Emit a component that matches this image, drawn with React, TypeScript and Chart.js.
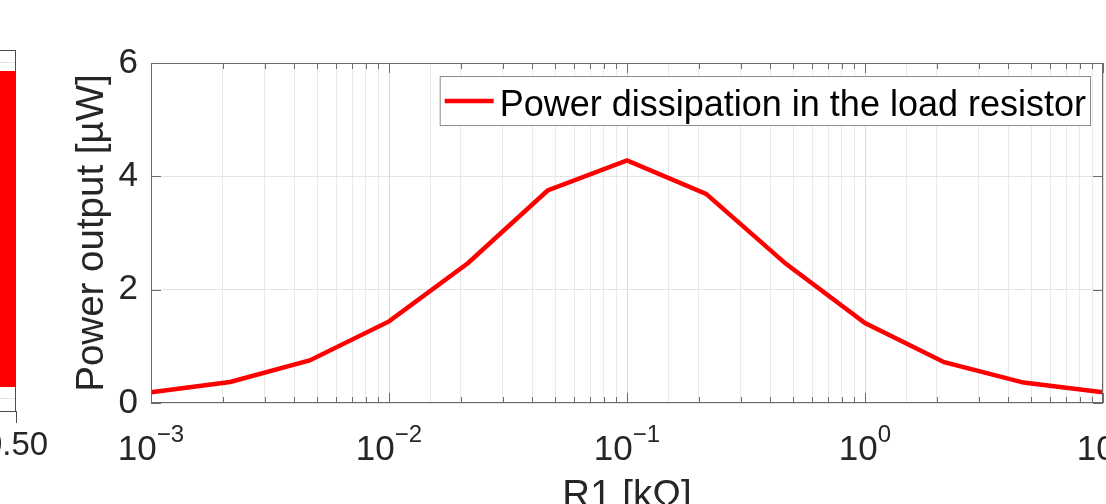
import React, { useEffect, useRef } from 'react';
import { Chart, registerables } from 'chart.js';

Chart.register(...registerables);

// ---- main plot data ----
const resistanceKOhm = [0.001, 0.00215, 0.00464, 0.01, 0.0215, 0.0464, 0.1, 0.215, 0.464, 1, 2.15, 4.64, 10];
const powerMicroW = [0.19, 0.37, 0.75, 1.44, 2.47, 3.75, 4.28, 3.69, 2.46, 1.41, 0.72, 0.36, 0.19];
const xTickValues = [0.001, 0.01, 0.1, 1, 10];
const xTickExponents = ['\u22123', '\u22122', '\u22121', '0', '1'];
const yTickValues = [0, 2, 4, 6];
const seriesLabel = 'Power dissipation in the load resistor';
const xAxisTitle = 'R1 [k\u03A9]';
const yAxisTitle = 'Power output [\u00B5W]';

// ---- neighbouring (cropped) subplot ----
const leftX = [0, 0.5];
const leftUpper = [0.975, 0.975];
const leftLower = [0.036, 0.036];
const leftXTicks = [0, 0.25, 0.5];
const leftYTicks = [0, 1];

const FONT = "'Liberation Sans', Arial, sans-serif";
const AX = '#262626';
const BORDER = '#6b6b6b';

const isPow10 = (v: number) => {
  if (!v || v <= 0) return false;
  const l = Math.log10(v);
  return Math.abs(l - Math.round(l)) < 1e-9;
};

const axesPlugin = {
  id: 'matlabAxes',
  afterDatasetsDraw(chart: any) {
    const { ctx, chartArea, scales } = chart;
    const { left, right, top, bottom } = chartArea;
    const x = scales.x;
    const y = scales.y;
    ctx.save();
    ctx.strokeStyle = BORDER;
    ctx.lineWidth = 1;
    ctx.strokeRect(left + 0.5, top + 0.5, right - left - 1, bottom - top - 1);
    ctx.beginPath();
    for (let e = -3; e <= 1; e++) {
      for (let m = 1; m <= 9; m++) {
        const v = m * Math.pow(10, e);
        if (v > 10.0001) break;
        const px = Math.round(x.getPixelForValue(v)) + 0.5;
        const len = m === 1 ? 10 : 6;
        ctx.moveTo(px, bottom);
        ctx.lineTo(px, bottom - len);
        ctx.moveTo(px, top);
        ctx.lineTo(px, top + len);
      }
    }
    yTickValues.forEach((v) => {
      const py = Math.round(y.getPixelForValue(v)) + 0.5;
      ctx.moveTo(left, py);
      ctx.lineTo(left + 10, py);
      ctx.moveTo(right, py);
      ctx.lineTo(right - 10, py);
    });
    ctx.stroke();
    ctx.restore();
  },
};

const legendPlugin = {
  id: 'matlabLegend',
  afterDatasetsDraw(chart: any) {
    const { ctx, chartArea } = chart;
    ctx.save();
    ctx.font = `36px ${FONT}`;
    const tw = ctx.measureText(seriesLabel).width;
    const boxRight = chartArea.right - 13;
    const boxTop = chartArea.top + 13;
    const boxH = 49;
    const boxLeft = boxRight - (60 + tw + 4);
    ctx.fillStyle = '#ffffff';
    ctx.fillRect(boxLeft, boxTop, boxRight - boxLeft, boxH);
    ctx.strokeStyle = '#8c8c8c';
    ctx.lineWidth = 1;
    ctx.strokeRect(boxLeft + 0.5, boxTop + 0.5, boxRight - boxLeft, boxH);
    ctx.strokeStyle = '#ff0000';
    ctx.lineWidth = 4.5;
    ctx.beginPath();
    ctx.moveTo(boxLeft + 5, boxTop + 25);
    ctx.lineTo(boxLeft + 54, boxTop + 25);
    ctx.stroke();
    ctx.fillStyle = '#000000';
    ctx.textBaseline = 'alphabetic';
    ctx.textAlign = 'left';
    ctx.fillText(seriesLabel, boxLeft + 60, boxTop + 40);
    ctx.restore();
  },
};

const xLabelsPlugin = {
  id: 'powerTenLabels',
  afterDraw(chart: any) {
    const { ctx, chartArea, scales } = chart;
    const x = scales.x;
    ctx.save();
    ctx.fillStyle = AX;
    ctx.textBaseline = 'alphabetic';
    ctx.textAlign = 'left';
    xTickValues.forEach((v, i) => {
      const px = x.getPixelForValue(v);
      ctx.font = `35px ${FONT}`;
      const wb = ctx.measureText('10').width;
      ctx.font = `24px ${FONT}`;
      const we = ctx.measureText(xTickExponents[i]).width;
      const start = px - (wb + we) / 2;
      const base = chartArea.bottom + 57;
      ctx.font = `35px ${FONT}`;
      ctx.fillText('10', start, base);
      ctx.font = `24px ${FONT}`;
      ctx.fillText(xTickExponents[i], start + wb, base - 18);
    });
    ctx.restore();
  },
};

const leftBorderPlugin = {
  id: 'leftBorder',
  beforeDatasetsDraw(chart: any) {
    const { ctx, chartArea } = chart;
    const { left, right, top, bottom } = chartArea;
    ctx.save();
    ctx.strokeStyle = '#4d4d4d';
    ctx.lineWidth = 1;
    ctx.strokeRect(left + 0.5, top + 0.5, right - left - 1, bottom - top);
    ctx.restore();
  },
};

export default function App() {
  const mainRef = useRef<HTMLCanvasElement | null>(null);
  const leftRef = useRef<HTMLCanvasElement | null>(null);

  useEffect(() => {
    if (!mainRef.current || !leftRef.current) return;

    const left = new Chart(leftRef.current, {
      type: 'line',
      data: {
        datasets: [
          {
            data: leftX.map((x, i) => ({ x, y: leftLower[i] })),
            borderWidth: 0,
            pointRadius: 0,
            fill: false,
            backgroundColor: '#ff0000',
            borderColor: '#ff0000',
          },
          {
            data: leftX.map((x, i) => ({ x, y: leftUpper[i] })),
            borderWidth: 0,
            pointRadius: 0,
            fill: '-1',
            backgroundColor: '#ff0000',
            borderColor: '#ff0000',
          },
        ],
      },
      options: {
        animation: false,
        responsive: false,
        layout: { padding: { left: 0, right: 40, top: 50, bottom: 0 } },
        plugins: { legend: { display: false }, tooltip: { enabled: false } },
        scales: {
          x: {
            type: 'linear',
            min: 0,
            max: 0.5,
            afterBuildTicks: (s: any) => {
              s.ticks = leftXTicks.map((v) => ({ value: v }));
            },
            ticks: {
              font: { family: FONT, size: 33 },
              color: AX,
              padding: 3,
              autoSkip: false,
              maxRotation: 0,
              callback: (v: any) => Number(v).toFixed(2),
            },
            grid: { drawOnChartArea: false, drawTicks: true, tickLength: 12, tickColor: '#4d4d4d' },
            border: { display: false },
            afterFit: (s: any) => {
              s.height = 93;
              s.paddingLeft = 0;
              s.paddingRight = 0;
            },
          },
          y: {
            type: 'linear',
            min: -0.0357,
            max: 1.0378,
            afterBuildTicks: (s: any) => {
              s.ticks = leftYTicks.map((v) => ({ value: v }));
            },
            ticks: { display: false },
            grid: { color: '#e3e3e3', drawTicks: false },
            border: { display: false },
            afterFit: (s: any) => {
              s.width = 0;
              s.paddingTop = 0;
              s.paddingBottom = 0;
            },
          },
        },
      } as any,
      plugins: [leftBorderPlugin],
    });

    const main = new Chart(mainRef.current, {
      type: 'line',
      data: {
        datasets: [
          {
            label: seriesLabel,
            data: resistanceKOhm.map((x, i) => ({ x, y: powerMicroW[i] })),
            borderColor: '#ff0000',
            backgroundColor: '#ff0000',
            borderWidth: 4.5,
            pointRadius: 0,
            tension: 0,
            fill: false,
          },
        ],
      },
      options: {
        animation: false,
        responsive: false,
        layout: { padding: { left: 0, right: 3, top: 63, bottom: 0 } },
        plugins: { legend: { display: false }, tooltip: { enabled: false } },
        scales: {
          x: {
            type: 'logarithmic',
            position: 'bottom',
            min: 0.001,
            max: 10,
            ticks: { display: false, autoSkip: false },
            grid: {
              color: (c: any) => (isPow10(c.tick && c.tick.value) ? '#dadada' : '#e9e9e9'),
              lineWidth: 1,
              drawTicks: false,
            },
            border: { display: false },
            title: {
              display: true,
              text: xAxisTitle,
              color: AX,
              font: { family: FONT, size: 38.5 },
              padding: { top: 0, bottom: 41 },
            },
            afterFit: (s: any) => {
              s.height = 157;
              s.paddingLeft = 0;
              s.paddingRight = 0;
            },
          },
          y: {
            type: 'linear',
            min: 0,
            max: 6,
            ticks: {
              stepSize: 2,
              color: AX,
              font: { family: FONT, size: 35 },
              padding: 13,
            },
            grid: { color: '#e4e4e4', drawTicks: false },
            border: { display: false },
            title: {
              display: true,
              text: yAxisTitle,
              color: AX,
              font: { family: FONT, size: 38.5 },
              padding: { top: 69, bottom: 0 },
            },
            afterFit: (s: any) => {
              s.width = 151;
              s.paddingTop = 0;
              s.paddingBottom = 0;
            },
          },
        },
      } as any,
      plugins: [axesPlugin, legendPlugin, xLabelsPlugin],
    });

    return () => {
      main.destroy();
      left.destroy();
    };
  }, []);

  return (
    <div
      style={{
        position: 'absolute',
        left: 0,
        top: 0,
        width: 1106,
        height: 504,
        overflow: 'hidden',
        background: '#ffffff',
      }}
    >
      <canvas ref={leftRef} width={460} height={504} style={{ position: 'absolute', left: -404, top: 0 }} />
      <canvas ref={mainRef} width={1106} height={560} style={{ position: 'absolute', left: 0, top: 0 }} />
    </div>
  );
}
